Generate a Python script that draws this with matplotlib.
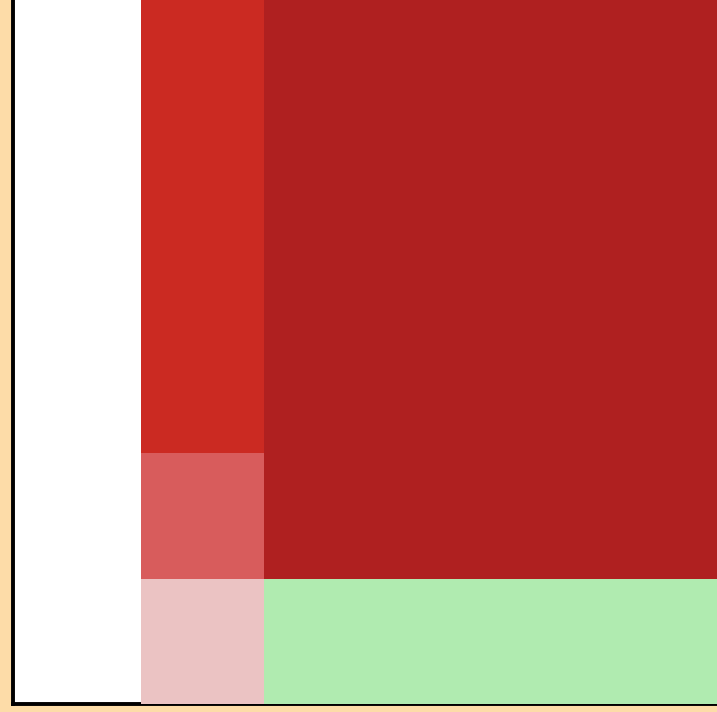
import numpy as np
import matplotlib
matplotlib.use("Agg")
import matplotlib.pyplot as plt
from matplotlib.colors import ListedColormap, BoundaryNorm

# Category levels and their colours (0 = low ... 4 = high)
level_colors = ["#B0EBB0", "#EBC3C3", "#D85C5C", "#CB2A22", "#AF2020"]

# Grid of category levels, rows listed bottom to top; NaN = empty cell
grid_rows = [
    [np.nan, 1, 0, 0, 0, 0],
    [np.nan, 2, 4, 4, 4, 4],
    [np.nan, 3, 4, 4, 4, 4],
    [np.nan, 3, 4, 4, 4, 4],
    [np.nan, 3, 4, 4, 4, 4],
    [np.nan, 3, 4, 4, 4, 4],
]

W, H, DPI = 717, 712, 100
fig = plt.figure(figsize=(W / DPI, H / DPI), dpi=DPI, facecolor="#FDDCA8")

cell_w, cell_h = 123, 125.5
left_px, bottom_px = 12.5, 8
x_start = -0.045
n_rows, n_cols = len(grid_rows), len(grid_rows[0])
ax = fig.add_axes([left_px / W, bottom_px / H,
                   (n_cols - x_start) * cell_w / W, n_rows * cell_h / H])
ax.set_facecolor("white")

data = np.ma.masked_invalid(np.array(grid_rows, dtype=float))
cmap = ListedColormap(level_colors)
norm = BoundaryNorm(np.arange(-0.5, len(level_colors) + 0.5, 1), cmap.N)
ax.pcolormesh(np.arange(n_cols + 1), np.arange(n_rows + 1), data,
              cmap=cmap, norm=norm, edgecolors="face", linewidth=0, zorder=3)

ax.set_xlim(x_start, n_cols)
ax.set_ylim(0, n_rows)
ax.set_xticks([])
ax.set_yticks([])
for side in ("top", "right"):
    ax.spines[side].set_visible(False)
for side in ("left", "bottom"):
    ax.spines[side].set_linewidth(2.8)
    ax.spines[side].set_color("black")

fig.savefig("out.png", dpi=DPI, facecolor=fig.get_facecolor())
